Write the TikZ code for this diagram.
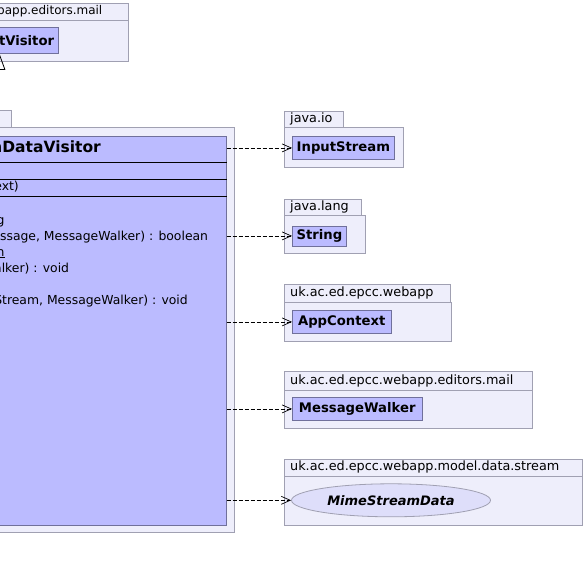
\documentclass[tikz,border=0pt]{standalone}
\usepackage{fontspec}
\setmainfont{DejaVu Sans}
\usetikzlibrary{arrows.meta,positioning,shapes.geometric}
\definecolor{pkgfill}{RGB}{238,238,251}
\definecolor{pkgline}{RGB}{160,160,178}
\definecolor{clsfill}{RGB}{187,187,255}
\definecolor{clsline}{RGB}{112,112,155}
\definecolor{ifcfill}{RGB}{222,222,250}
\tikzset{
  pkg/.style={draw=pkgline, fill=pkgfill, line width=0.8pt},
  pkglabel/.style={font=\fontsize{12.8}{15}\selectfont, anchor=mid west, inner sep=0pt},
  cls/.style={draw=clsline, fill=clsfill, line width=0.8pt, inner sep=0pt,
    font=\bfseries\fontsize{13.2}{15}\selectfont},
  iface/.style={ellipse, draw=pkgline, fill=ifcfill, line width=0.8pt, inner sep=0pt,
    font=\bfseries\itshape\fontsize{13}{15}\selectfont},
  title/.style={font=\bfseries\fontsize{15.5}{17}\selectfont, anchor=mid east, inner sep=0pt},
  member/.style={font=\fontsize{12.4}{14}\selectfont, anchor=mid east, inner sep=0pt},
  compart/.style={line width=0.8pt},
  dep/.style={-{Straight Barb[length=9pt,width=8pt]}, dash pattern=on 4pt off 2pt, line width=0.7pt},
  gen/.style={-{Triangle[open,length=16pt,width=11.4pt]}, line width=0.8pt}
}

\begin{document}
\begin{tikzpicture}[x=1pt,y=-1pt]
  \useasboundingbox (0,0) rectangle (584,571);
  \clip (0,0) rectangle (584,571);
  % editors.mail (top)
  \draw[pkg] (-300,3) rectangle (128,20);
  \draw[pkg] (-300,20) rectangle (128,61);
  \node[pkglabel, anchor=mid east, font=\fontsize{12}{14}\selectfont] (toplabel) at (102.5,12) {uk.ac.ed.epcc.webapp.editors.mail};
  \node[cls, anchor=north east, minimum width=118pt, minimum height=26pt,
    text width=109pt, align=right] (visitor) at (59,27) {tVisitor};
  % main package
  \draw[pkg] (-300,110) rectangle (11.7,127.7);
  \draw[pkg] (-300,127.7) rectangle (234,532.7);
  \node[cls, anchor=north east, minimum width=527pt, minimum height=389pt] (main) at (226.7,136) {};
  \node[title] (maintitle) at (101,150) {MimeStreamDataVisitor};
  \draw[compart] (-300,162) -- (226.7,162);
  \draw[compart] (-300,179) -- (226.7,179);
  \draw[compart] (-300,196) -- (226.7,196);
  \node[member] (ctor) at (19,188) {(AppContext)};
  \node[member] (m1) at (4.8,221.5) {String};
  \node[member] (m2) at (208.3,237.5) {(MimeMessage, MessageWalker) : boolean};
  \node[member] (m3) at (4.8,253.5) {\underline{mn}};
  \node[member] (m4) at (69.3,269.5) {(MessageWalker) : void};
  \node[member] (m5) at (188,301.5) {(InputStream, MessageWalker) : void};
  % generalisation
  \draw[gen] (main.north -| visitor.south) -- (visitor.south);
  % java.io
  \draw[pkg] (284,111) rectangle (343,127);
  \draw[pkg] (284,127) rectangle (403,167.5);
  \node[pkglabel] (iolabel) at (290,119.5) {java.io};
  \node[cls, anchor=north west, minimum width=102pt, minimum height=23pt] (instream) at (292,136) {InputStream};
  % java.lang
  \draw[pkg] (284,199) rectangle (361,215);
  \draw[pkg] (284,215) rectangle (365.5,253.5);
  \node[pkglabel] (langlabel) at (290,207.5) {java.lang};
  \node[cls, anchor=north west, minimum width=54pt, minimum height=20pt] (string) at (292,225.5) {String};
  % webapp
  \draw[pkg] (284,284) rectangle (450,302);
  \draw[pkg] (284,302) rectangle (451.7,341);
  \node[pkglabel] (applabel) at (290,293.5) {uk.ac.ed.epcc.webapp};
  \node[cls, anchor=north west, minimum width=98.7pt, minimum height=23pt] (appctx) at (292,310) {AppContext};
  % webapp.editors.mail
  \draw[pkg] (284,371.7) rectangle (532,390);
  \draw[pkg] (284,390) rectangle (532,428);
  \node[pkglabel] (maillabel) at (290,381.5) {uk.ac.ed.epcc.webapp.editors.mail};
  \node[cls, anchor=north west, minimum width=129.7pt, minimum height=23pt] (walker) at (292,397) {MessageWalker};
  % model.data.stream
  \draw[pkg] (284,459) rectangle (582,476);
  \draw[pkg] (284,476) rectangle (582,525);
  \node[pkglabel] (streamlabel) at (290,468) {uk.ac.ed.epcc.webapp.model.data.stream};
  \node[iface, minimum width=199pt, minimum height=33pt] (mime) at (391,500.3) {MimeStreamData};
  % dependencies
  \draw[dep] (instream.west -| main.east) -- (instream.west);
  \draw[dep] (string.west -| main.east) -- (string.west);
  \draw[dep] (appctx.west -| main.east) -- (appctx.west);
  \draw[dep] (walker.west -| main.east) -- (walker.west);
  \draw[dep] (mime.west -| main.east) -- (mime.west);
\end{tikzpicture}
\end{document}
